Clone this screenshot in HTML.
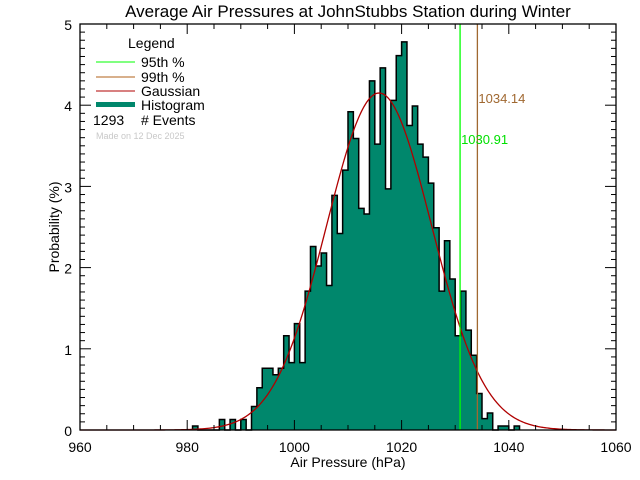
<!DOCTYPE html>
<html><head><meta charset="utf-8"><style>
body{margin:0;background:#fff}
svg{display:block;font-family:"Liberation Sans",sans-serif}
</style></head><body>
<svg id="c" width="640" height="480" viewBox="0 0 640 480">
<text x="348" y="17" text-anchor="middle" font-size="17">Average Air Pressures at JohnStubbs Station during Winter</text>
<text x="348" y="467" text-anchor="middle" font-size="14">Air Pressure (hPa)</text>
<text transform="translate(59,227) rotate(-90)" text-anchor="middle" font-size="14">Probability (%)</text>
<g id="bars"></g>
<g id="axes"></g>
<g font-size="14">
<text x="128" y="48">Legend</text>
<line x1="96" y1="62" x2="135" y2="62" stroke="#00ff00"/>
<text x="141" y="67">95th %</text>
<line x1="96" y1="77" x2="135" y2="77" stroke="#b06018"/>
<text x="141" y="82">99th %</text>
<line x1="96" y1="91" x2="135" y2="91" stroke="#b00000"/>
<text x="141" y="96">Gaussian</text>
<rect x="96" y="102" width="39" height="5" fill="#00876c"/>
<text x="141" y="110">Histogram</text>
<text x="93" y="125">1293</text>
<text x="141" y="125"># Events</text>
<text x="96" y="139" font-size="9" fill="#c8c8c8">Made on 12 Dec 2025</text>
</g>
</svg>
<script>
const binStarts=[981,982,983,984,985,986,987,988,989,990,991,992,993,994,995,996,997,998,999,1000,1001,1002,1003,1004,1005,1006,1007,1008,1009,1010,1011,1012,1013,1014,1015,1016,1017,1018,1019,1020,1021,1022,1023,1024,1025,1026,1027,1028,1029,1030,1031,1032,1033,1034,1035,1036,1037,1038,1039,1040,1041];
const binValues=[0.05,0,0,0,0,0.13,0,0.13,0,0.13,0,0.29,0.52,0.76,0.76,0.68,0.76,1.16,0.83,1.31,0.83,1.71,2.26,2.02,2.18,1.78,2.89,2.42,3.2,3.92,3.59,2.73,2.66,4.3,3.52,4.46,2.97,4.06,4.61,4.78,3.75,3.99,3.52,3.36,3.04,2.49,1.71,2.33,1.86,1.16,1.71,1.23,0.92,0.45,0.14,0.21,0,0.05,0.05,0,0.05];
const gaussMean=[1015.8];
const gaussSigma=[9.8];
const gaussPeak=[4.15];
const pct95=[1030.91];
const pct99=[1034.14];
const xTicks=[960,980,1000,1020,1040,1060];
const yTicks=[0,1,2,3,4,5];
const NS='http://www.w3.org/2000/svg';
const X0=80,X1=616,Y0=430,Y1=24;
const xs=v=>X0+(v-960)/100*(X1-X0);
const ys=v=>Y0-v/5*(Y0-Y1);
function mk(t,a,p){const e=document.createElementNS(NS,t);for(const k in a)e.setAttribute(k,a[k]);p.appendChild(e);return e;}
const bars=document.getElementById('bars'),axes=document.getElementById('axes');
let d='M'+xs(binStarts[0])+','+Y0;
binStarts.forEach((b,i)=>{
  d+=' L'+xs(b)+','+ys(binValues[i])+' L'+xs(b+1)+','+ys(binValues[i]);
});
d+=' L'+xs(binStarts[binStarts.length-1]+1)+','+Y0;
const fill=mk('path',{d:d+' Z',fill:'#00876c',stroke:'none','shape-rendering':'crispEdges'},bars);


const out=mk('path',{d:d,fill:'none',stroke:'#000','stroke-width':1.5},bars);


let g='';
for(let v=960;v<=1060;v+=0.25){const y=gaussPeak[0]*Math.exp(-Math.pow(v-gaussMean[0],2)/(2*gaussSigma[0]*gaussSigma[0]));g+=(g?' L':'M')+xs(v).toFixed(2)+','+ys(y).toFixed(2);}
const gp=mk('path',{d:g,fill:'none',stroke:'#b00000','stroke-width':1.3},bars);


const l95=mk('line',{x1:xs(pct95[0]),x2:xs(pct95[0]),y1:Y1,y2:Y0,stroke:'#00ff00','stroke-width':1.3},bars);


const l99=mk('line',{x1:xs(pct99[0]),x2:xs(pct99[0]),y1:Y1,y2:Y0,stroke:'#a06830','stroke-width':1.3},bars);


const t99=mk('text',{x:xs(pct99[0])+1,y:103,fill:'#a06830','font-size':13},bars);t99.textContent=pct99[0].toFixed(2);


const t95=mk('text',{x:xs(pct95[0])+1,y:144,fill:'#00e000','font-size':13},bars);t95.textContent=pct95[0].toFixed(2);


mk('rect',{x:X0,y:Y1,width:X1-X0,height:Y0-Y1,fill:'none',stroke:'#000','stroke-width':1.3},axes);
for(let v=960;v<=1060;v+=5){const maj=(v%20===0);const L=maj?10:5;
  mk('line',{x1:xs(v),x2:xs(v),y1:Y0,y2:Y0-L,stroke:'#000'},axes);
  mk('line',{x1:xs(v),x2:xs(v),y1:Y1,y2:Y1+L,stroke:'#000'},axes);}
for(let i=0;i<=50;i++){const v=i/10;const maj=(i%10===0);const L=maj?11:5;
  mk('line',{x1:X0,x2:X0+L,y1:ys(v),y2:ys(v),stroke:'#000'},axes);
  mk('line',{x1:X1,x2:X1-L,y1:ys(v),y2:ys(v),stroke:'#000'},axes);}
xTicks.forEach(v=>{const t=mk('text',{x:xs(v),y:452,'text-anchor':'middle','font-size':14},axes);t.textContent=v;
  
  });
yTicks.forEach(v=>{const t=mk('text',{x:72,y:ys(v)+6,'text-anchor':'end','font-size':14},axes);t.textContent=v;
  
  });
</script>
</body></html>
